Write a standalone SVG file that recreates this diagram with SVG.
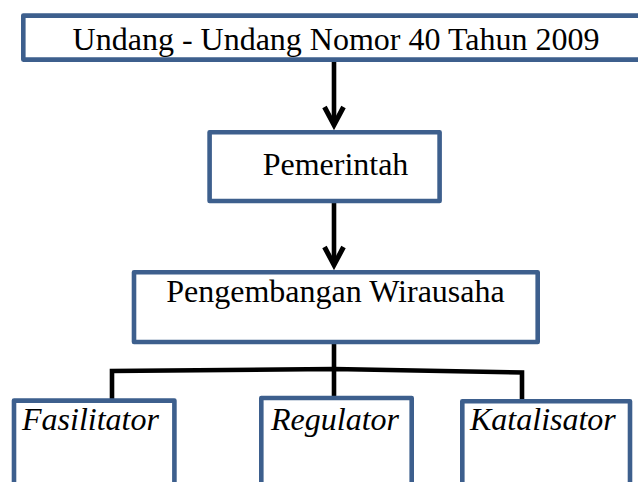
<svg xmlns="http://www.w3.org/2000/svg" width="638" height="482" viewBox="0 0 638 482">
  <defs>
    <style>
      .box { fill: #ffffff; stroke: #3D5F8D; stroke-width: 4.6; stroke-linejoin: round; }
      .lbl { font-family: 'Liberation Serif', 'Times New Roman', Times, 'DejaVu Serif', serif; font-size: 32px; fill: #000000; }
      .it { font-style: italic; }
      .con { fill: none; stroke: #000000; stroke-width: 4.6; }
    </style>
    <marker id="head" markerUnits="userSpaceOnUse" markerWidth="40" markerHeight="40" refX="0" refY="0" orient="auto" overflow="visible" viewBox="-30 -20 40 40">
      <path d="M-18,-9.5 L0,0 L-18,9.5" fill="none" stroke="#000000" stroke-width="5" stroke-linejoin="miter"/>
    </marker>
  </defs>
  <rect width="638" height="482" fill="#ffffff"/>

  <g id="connectors">
    <line class="con" x1="334" y1="62" x2="334" y2="125" marker-end="url(#head)"/>
    <line class="con" x1="334" y1="203" x2="334" y2="265" marker-end="url(#head)"/>
    <path class="con" d="M334,344 L334,397"/>
    <path class="con" d="M112,399 L112,371 L334,369 L522,372.5 L522,400"/>
  </g>

  <g id="undang">
    <rect class="box" x="23.3" y="15.6" width="640" height="44"/>
    <text class="lbl" font-family="Liberation Serif, serif" x="336" y="49.5" text-anchor="middle">Undang - Undang Nomor 40 Tahun 2009</text>
  </g>

  <g id="pemerintah">
    <rect class="box" x="209.6" y="132.3" width="230" height="68.7"/>
    <text class="lbl" font-family="Liberation Serif, serif" x="335.5" y="175" text-anchor="middle">Pemerintah</text>
  </g>

  <g id="pengembangan">
    <rect class="box" x="134" y="272.3" width="403.7" height="69.7"/>
    <text class="lbl" font-family="Liberation Serif, serif" x="335.5" y="302" text-anchor="middle">Pengembangan Wirausaha</text>
  </g>

  <g id="fasilitator">
    <rect class="box" x="14" y="400.6" width="160.4" height="100"/>
    <text class="lbl it" font-family="Liberation Serif, serif" x="22" y="429.5">Fasilitator</text>
  </g>

  <g id="regulator">
    <rect class="box" x="261.3" y="398" width="150.4" height="100"/>
    <text class="lbl it" font-family="Liberation Serif, serif" x="271" y="430">Regulator</text>
  </g>

  <g id="katalisator">
    <rect class="box" x="462.3" y="401.3" width="167.7" height="100"/>
    <text class="lbl it" font-family="Liberation Serif, serif" x="470" y="429.5">Katalisator</text>
  </g>
</svg>
